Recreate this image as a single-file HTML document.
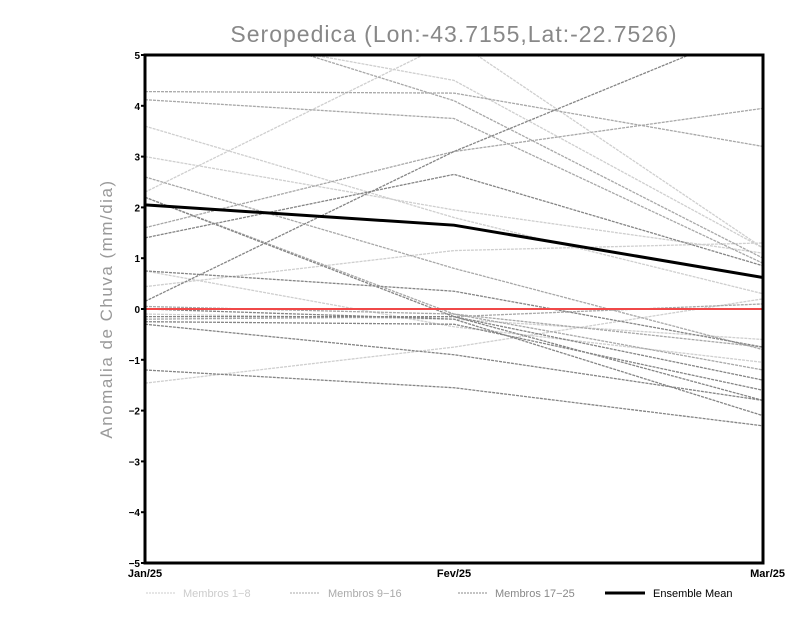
<!DOCTYPE html>
<html><head><meta charset="utf-8"><style>
body{margin:0;background:#fff;width:800px;height:618px;overflow:hidden}
svg{display:block}
</style></head><body>
<svg id="chart" width="800" height="618" xmlns="http://www.w3.org/2000/svg" font-family="Liberation Sans, sans-serif">
<defs><clipPath id="plotclip"><rect x="145" y="55" width="618" height="508"/></clipPath></defs>
<text x="454" y="42" text-anchor="middle" font-size="23" fill="#888" letter-spacing="1">Seropedica (Lon:-43.7155,Lat:-22.7526)</text>
<text transform="translate(112,309) rotate(-90)" text-anchor="middle" font-size="17" fill="#999" letter-spacing="1.5">Anomalia de Chuva (mm/dia)</text>
<g id="lines" clip-path="url(#plotclip)"></g>
<g id="axes"></g>
<g id="legend">
<line x1="146" y1="593" x2="176" y2="593" stroke="#ccc" stroke-dasharray="2,1"/>
<text x="183" y="597" font-size="11" fill="#ccc">Membros 1−8</text>
<line x1="290" y1="593" x2="320" y2="593" stroke="#aaa" stroke-dasharray="2,1"/>
<text x="328" y="597" font-size="11" fill="#aaa">Membros 9−16</text>
<line x1="458" y1="593" x2="488" y2="593" stroke="#888" stroke-dasharray="2,1"/>
<text x="495" y="597" font-size="11" fill="#888">Membros 17−25</text>
<line x1="605" y1="593" x2="645" y2="593" stroke="#000" stroke-width="3"/>
<text x="653" y="597" font-size="11" fill="#000">Ensemble Mean</text>
</g>
</svg>
<script>
const categories = ["Jan/25","Fev/25","Mar/25"];
const yTicks = [-5,-4,-3,-2,-1,0,1,2,3,4,5];
const membersLight = [
 [2.3,5.3,1.2],[3.6,1.8,0.3],[3.0,1.95,1.1],[0.44,1.15,1.3],
 [-1.46,-0.75,0.2],[5.6,4.5,1.2],[0.75,-0.35,-1.05],[-0.1,-0.2,-0.6]
];
const membersMid = [
 [4.28,4.25,3.2],[4.12,3.75,0.9],[1.6,3.1,3.95],[2.6,0.8,-0.8],
 [2.2,-0.1,-1.2],[0.05,-0.1,-0.75],[-0.2,-0.15,0.1],[6.0,4.1,1.0]
];
const membersDark = [
 [0.15,3.1,5.6],[1.4,2.65,0.85],[2.2,-0.15,-1.8],[0.75,0.35,-0.75],
 [-0.15,-0.15,-1.4],[-0.25,-0.3,-1.6],[-0.3,-0.9,-1.8],[-1.2,-1.55,-2.3],[0.0,-0.2,-2.1]
];
const ensembleMean = [2.05,1.65,0.62];
const zeroLine = [0,0,0];

const X0=145,X1=763,Y0=563,Y1=55;
function xs(i){return X0+(X1-X0)*i/(categories.length-1);}
function ys(v){return Y0-(v+5)/10*(Y0-Y1);}
const NS="http://www.w3.org/2000/svg";
const lg=document.getElementById('lines'), ax=document.getElementById('axes');
function poly(arr,color,w,dash,name){
  const p=document.createElementNS(NS,'polyline');
  p.setAttribute('points',arr.map((v,i)=>xs(i)+','+ys(v)).join(' '));
  p.setAttribute('fill','none');p.setAttribute('stroke',color);p.setAttribute('stroke-width',w);
  if(dash)p.setAttribute('stroke-dasharray',dash);
  
  
  lg.appendChild(p);
}
membersLight.forEach((m,i)=>poly(m,'#cfcfcf',1.3,'3,1','member-light-line'));
membersMid.forEach((m,i)=>poly(m,'#a8a8a8',1.3,'3,1','member-mid-line'));
membersDark.forEach((m,i)=>poly(m,'#858585',1.3,'3,1','member-dark-line'));
poly(zeroLine,'#f04848',2,null,'zero-line');
poly(ensembleMean,'#000',3,null,'ensemble-mean-line');

const fr=document.createElementNS(NS,'rect');
fr.setAttribute('x',X0);fr.setAttribute('y',Y1);fr.setAttribute('width',X1-X0);fr.setAttribute('height',Y0-Y1);
fr.setAttribute('fill','none');fr.setAttribute('stroke','#000');fr.setAttribute('stroke-width',3);


ax.appendChild(fr);
yTicks.forEach(t=>{
  const l=document.createElementNS(NS,'line');
  l.setAttribute('x1',X0-4);l.setAttribute('x2',X0);l.setAttribute('y1',ys(t));l.setAttribute('y2',ys(t));
  l.setAttribute('stroke','#000');l.setAttribute('stroke-width',2);
  
  
  ax.appendChild(l);
  const tx=document.createElementNS(NS,'text');
  tx.setAttribute('x',X0-5);tx.setAttribute('y',ys(t)+4);tx.setAttribute('text-anchor','end');
  tx.setAttribute('font-size','10');tx.setAttribute('font-weight','bold');
  tx.textContent=t<0?'−'+(-t):String(t);
  
  
  ax.appendChild(tx);
});
categories.forEach((c,i)=>{
  const tx=document.createElementNS(NS,'text');
  tx.setAttribute('x',xs(i));tx.setAttribute('y',577);
  tx.setAttribute('text-anchor',i===0?'middle':(i===categories.length-1?'end':'middle'));
  if(i===categories.length-1)tx.setAttribute('x',xs(i)+22);
  tx.setAttribute('font-size','11');tx.setAttribute('font-weight','bold');
  tx.textContent=c;
  
  
  ax.appendChild(tx);
});
</script>
</body></html>
